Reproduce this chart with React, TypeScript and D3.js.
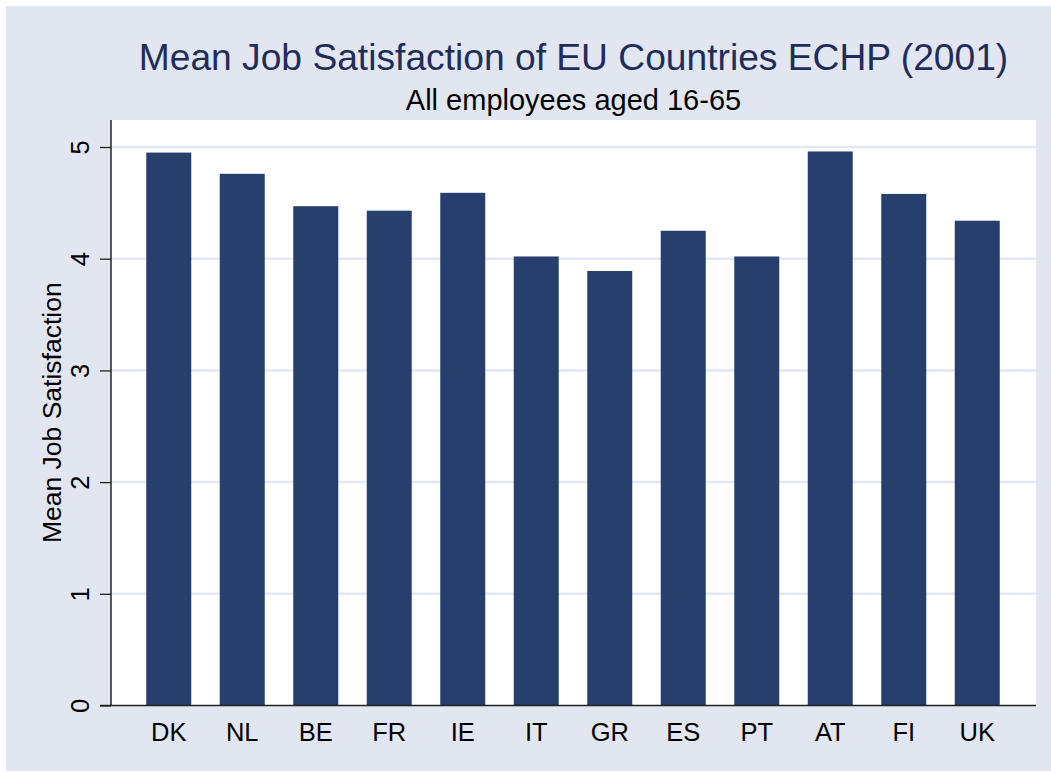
import React, { useEffect, useRef } from 'react';
import * as d3 from 'd3';

// mean job satisfaction by country, ECHP 2001
const countries = ['DK', 'NL', 'BE', 'FR', 'IE', 'IT', 'GR', 'ES', 'PT', 'AT', 'FI', 'UK'];
const satisfaction = [4.95, 4.76, 4.47, 4.43, 4.59, 4.02, 3.89, 4.25, 4.02, 4.96, 4.58, 4.34];
const yTicks = [0, 1, 2, 3, 4, 5];

const titleText = 'Mean Job Satisfaction of EU Countries ECHP (2001)';
const subtitleText = 'All employees aged 16-65';
const yTitle = 'Mean Job Satisfaction';

const App = () => {
  const ref = useRef<SVGSVGElement>(null);

  useEffect(() => {
    const w = 1051;
    const h = 772;
    const font = '"Liberation Sans", Arial, sans-serif';

    // plot region
    const left = 111, right = 1036, top = 120, bottom = 705.5;

    const svg = d3.select(ref.current);
    svg.selectAll('*').remove();

    svg.append('rect').attr('width', w).attr('height', h).attr('fill', '#ffffff');
    svg.append('rect')
      .attr('x', 6).attr('y', 6)
      .attr('width', w - 6).attr('height', h - 7)
      .attr('fill', '#e1e6f0');
    svg.append('rect')
      .attr('x', left).attr('y', top)
      .attr('width', right - left).attr('height', bottom - top)
      .attr('fill', '#ffffff');

    var xScale = d3.scaleBand<string>()
      .domain(countries)
      .range([132, 1014])
      .paddingInner(0.388)
      .paddingOuter(0.194);

    var yScale = d3.scaleLinear()
      .domain([0, 5])
      .range([bottom, 147]);

    // grid lines
    svg.selectAll('line.grid')
      .data(yTicks.filter(d => d > 0))
      .enter()
      .append('line')
      .attr('class', 'grid')
      .attr('x1', left).attr('x2', right)
      .attr('y1', d => yScale(d)).attr('y2', d => yScale(d))
      .attr('stroke', '#e4e8f2')
      .attr('stroke-width', 2.5);

    // bars
    svg.selectAll('rect.bar')
      .data(satisfaction)
      .enter()
      .append('rect')
      .attr('class', 'bar')
      .attr('x', (d, i) => xScale(countries[i]) as number)
      .attr('y', d => yScale(d))
      .attr('width', xScale.bandwidth())
      .attr('height', d => bottom - yScale(d))
      .attr('fill', '#263f6c');

    // y axis
    const yAxis = svg.append('g').attr('transform', `translate(${left},0)`)
      .call(d3.axisLeft(yScale).tickValues(yTicks).tickSize(11).tickSizeOuter(0).tickFormat(d3.format('d')));
    yAxis.select('.domain').attr('stroke', '#222').attr('stroke-width', 1.5)
      .attr('d', `M0,${top}V${bottom}`);
    yAxis.selectAll('.tick line').attr('stroke', '#222').attr('stroke-width', 1.3);
    yAxis.selectAll('.tick text')
      .attr('x', null).attr('dy', null)
      .attr('transform', 'translate(-22,0) rotate(-90)')
      .attr('text-anchor', 'middle')
      .attr('font-family', font)
      .attr('font-size', 25.5)
      .attr('fill', '#000');

    // x axis
    svg.append('line')
      .attr('x1', left - 11).attr('x2', right)
      .attr('y1', bottom).attr('y2', bottom)
      .attr('stroke', '#222').attr('stroke-width', 1.5);

    svg.selectAll('text.xlab')
      .data(countries)
      .enter()
      .append('text')
      .attr('class', 'xlab')
      .attr('x', d => (xScale(d) as number) + xScale.bandwidth() / 2)
      .attr('y', 741)
      .attr('text-anchor', 'middle')
      .attr('font-family', font)
      .attr('font-size', 25.5)
      .attr('fill', '#000')
      .text(d => d);

    // axis title
    svg.append('text')
      .attr('transform', `translate(61,${(top + bottom) / 2}) rotate(-90)`)
      .attr('text-anchor', 'middle')
      .attr('font-family', font)
      .attr('font-size', 26.5)
      .attr('fill', '#000')
      .text(yTitle);

    // titles
    svg.append('text')
      .attr('x', (left + right) / 2).attr('y', 69.5)
      .attr('text-anchor', 'middle')
      .attr('font-family', font)
      .attr('font-size', 37.2)
      .attr('fill', '#1f2d5b')
      .text(titleText);

    svg.append('text')
      .attr('x', (left + right) / 2).attr('y', 109.5)
      .attr('text-anchor', 'middle')
      .attr('font-family', font)
      .attr('font-size', 29)
      .attr('fill', '#000')
      .text(subtitleText);
  }, []);

  return (
    <svg ref={ref} width={1051} height={772}
      style={{ position: 'absolute', left: 0, top: 0, display: 'block' }} />
  );
};

export default App;
